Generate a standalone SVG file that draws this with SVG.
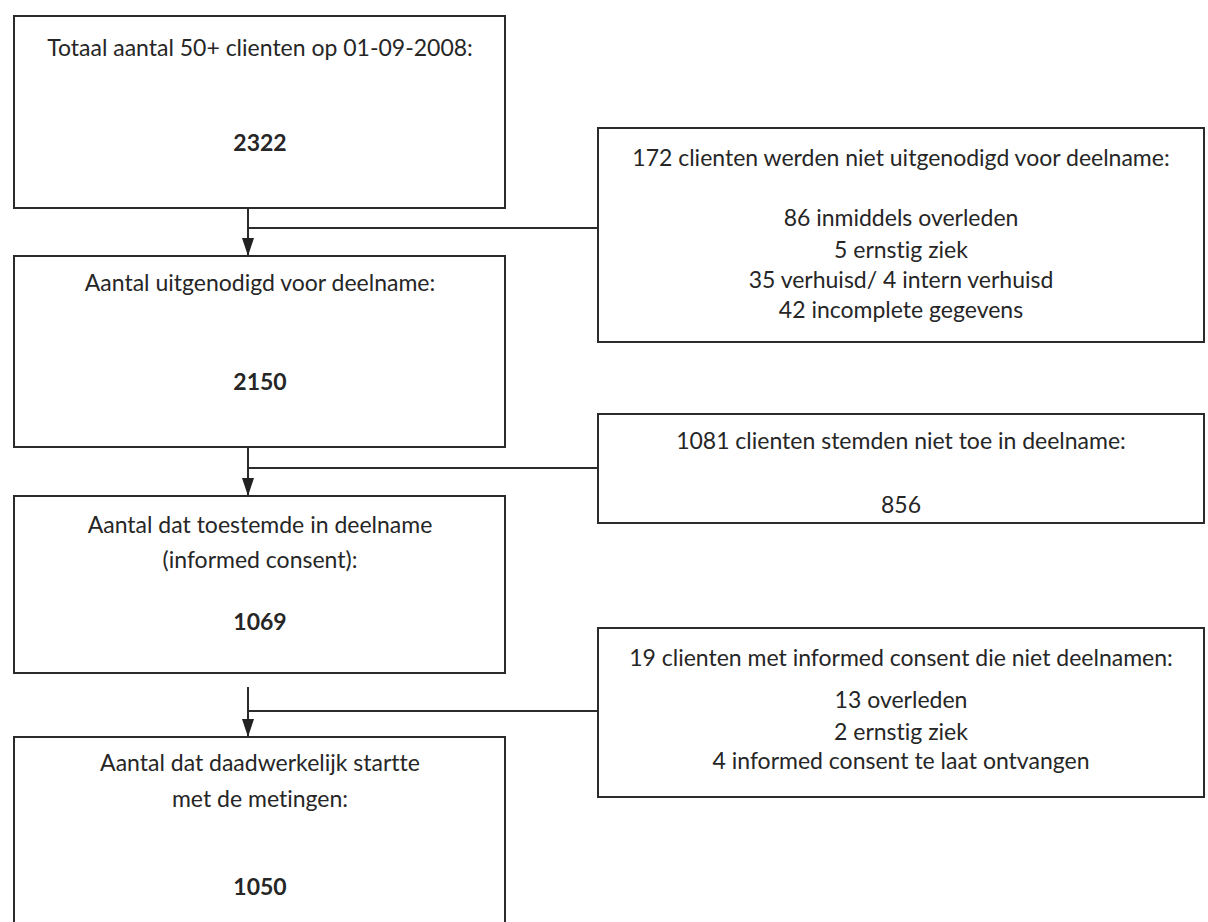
<svg xmlns="http://www.w3.org/2000/svg" width="1208" height="922" viewBox="0 0 1208 922">
<defs>
<style>
.box{fill:#ffffff;stroke:#2b2b2b;stroke-width:2}
.t{font-family:Lato,"Open Sans","Liberation Sans",sans-serif;font-size:23px;fill:#262626;text-anchor:middle;font-variant-ligatures:none}
.b{font-weight:bold}
.c{fill:none;stroke:#2b2b2b;stroke-width:2}
</style>
<marker id="ah" markerUnits="userSpaceOnUse" markerWidth="20" markerHeight="14" refX="18" refY="7" orient="auto" viewBox="0 0 20 14">
<path d="M0,1 L18,7 L0,13 Z" fill="#222"/>
</marker>
</defs>
<rect width="1208" height="922" fill="#ffffff"/>
<g id="connectors">
<line class="c" x1="248" y1="208" x2="248" y2="256" marker-end="url(#ah)"/>
<line class="c" x1="598" y1="228" x2="248" y2="228"/>
<line class="c" x1="248" y1="447" x2="248" y2="496" marker-end="url(#ah)"/>
<line class="c" x1="598" y1="468" x2="248" y2="468"/>
<line class="c" x1="248" y1="687" x2="248" y2="737" marker-end="url(#ah)"/>
<line class="c" x1="598" y1="711" x2="248" y2="711"/>
</g>
<g id="n1">
<rect class="box" x="14" y="16" width="491" height="192"/>
<text class="t" x="260" y="56">Totaal aantal 50+ clienten op 01-09-2008:</text>
<text class="t b" x="260" y="151">2322</text>
</g>
<g id="n2">
<rect class="box" x="14" y="256" width="491" height="191"/>
<text class="t" x="260" y="291">Aantal uitgenodigd voor deelname:</text>
<text class="t b" x="260" y="390">2150</text>
</g>
<g id="n3">
<rect class="box" x="14" y="496" width="491" height="177"/>
<text class="t" x="260" y="533">Aantal dat toestemde in deelname</text>
<text class="t" x="260" y="568">(informed consent):</text>
<text class="t b" x="260" y="630">1069</text>
</g>
<g id="n4">
<rect class="box" x="14" y="737" width="491" height="200"/>
<text class="t" x="260" y="771">Aantal dat daadwerkelijk startte</text>
<text class="t" x="260" y="807">met de metingen:</text>
<text class="t b" x="260" y="895">1050</text>
</g>
<g id="r1">
<rect class="box" x="598" y="128" width="606" height="214"/>
<text class="t" x="901" y="166">172 clienten werden niet uitgenodigd voor deelname:</text>
<text class="t" x="901" y="226">86 inmiddels overleden</text>
<text class="t" x="901" y="258">5 ernstig ziek</text>
<text class="t" x="901" y="288">35 verhuisd/ 4 intern verhuisd</text>
<text class="t" x="901" y="318">42 incomplete gegevens</text>
</g>
<g id="r2">
<rect class="box" x="598" y="414" width="606" height="109"/>
<text class="t" x="901" y="449">1081 clienten stemden niet toe in deelname:</text>
<text class="t" x="901" y="513">856</text>
</g>
<g id="r3">
<rect class="box" x="598" y="628" width="606" height="169"/>
<text class="t" x="901" y="666">19 clienten met informed consent die niet deelnamen:</text>
<text class="t" x="901" y="708">13 overleden</text>
<text class="t" x="901" y="740">2 ernstig ziek</text>
<text class="t" x="901" y="769">4 informed consent te laat ontvangen</text>
</g>
</svg>
